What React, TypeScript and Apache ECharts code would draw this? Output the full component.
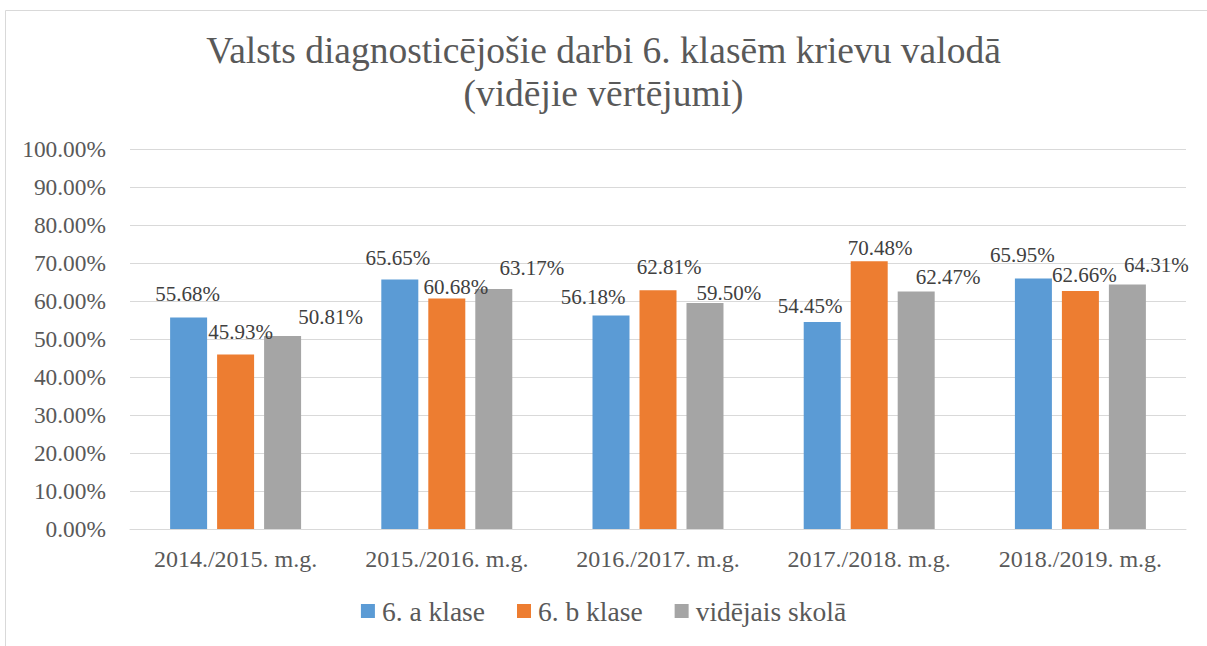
import React, { useEffect, useRef } from "react";
import * as echarts from "echarts";

const categories = [
  "2014./2015. m.g.",
  "2015./2016. m.g.",
  "2016./2017. m.g.",
  "2017./2018. m.g.",
  "2018./2019. m.g.",
];
const seriesNames = ["6. a klase", "6. b klase", "vidējais skolā"];
const classA = [55.68, 65.65, 56.18, 54.45, 65.95];
const classB = [45.93, 60.68, 62.81, 70.48, 62.66];
const schoolAvg = [50.81, 63.17, 59.5, 62.47, 64.31];
const yTicks = [0, 10, 20, 30, 40, 50, 60, 70, 80, 90, 100];

// label placement tweaks (styling only)
const offsetsA = [[-1, -8], [-2, -6.5], [-18, -3.5], [-12, -1], [-11, -7.5]];
const offsetsB = [[5, -6.5], [9, 4.5], [11, -7.5], [11, 2], [4, -0.5]];
const offsetsC = [[48, -3], [38, -5.5], [24, 5.5], [32, 0.5], [29, -4.5]];

const FONT = "Liberation Serif";
const colors = ["#5B9BD5", "#ED7D31", "#A5A5A5"];

export default function App() {
  const ref = useRef<HTMLDivElement>(null);
  useEffect(() => {
    document.body.style.margin = "0";
    const chart = echarts.init(ref.current!, null, { renderer: "svg" });
    const mk = (name: string, vals: number[], offs: number[][], color: string) => ({
      name,
      type: "bar",
      barWidth: 37,
      barGap: "27%",
      itemStyle: { color },
      data: vals.map((v, i) => ({
        value: v,
        label: { offset: offs[i] },
      })),
      label: {
        show: true,
        position: "top",
        distance: 5,
        color: "#404040",
        fontFamily: FONT,
        fontSize: 21,
        formatter: (p: any) => Number(p.value).toFixed(2) + "%",
      },
    });
    chart.setOption({
      animation: false,
      color: colors,
      textStyle: { fontFamily: FONT },
      graphic: [
        {
          type: "rect",
          shape: { x: 5.5, y: 10.5, width: 1220, height: 660 },
          style: { fill: "none", stroke: "#d9d9d9", lineWidth: 1 },
          silent: true,
        },
      ],
      title: {
        text: "Valsts diagnosticējošie darbi 6. klasēm krievu valodā\n(vidējie vērtējumi)",
        left: "center",
        top: 24,
        padding: [5, 5, 5, 27],
        textStyle: {
          fontFamily: FONT,
          fontSize: 37.5,
          fontWeight: "normal",
          color: "#595959",
          lineHeight: 43,
        },
      },
      legend: {
        data: seriesNames,
        bottom: 16,
        left: "center",
        icon: "rect",
        itemWidth: 14,
        itemHeight: 14,
        itemGap: 32,
        textStyle: {
          fontFamily: FONT,
          fontSize: 27.5,
          color: "#595959",
          padding: [0, 0, 0, 2],
        },
      },
      grid: { left: 130, right: 21, top: 149, bottom: 117, containLabel: false },
      xAxis: {
        type: "category",
        data: categories,
        axisTick: { show: false },
        axisLine: { lineStyle: { color: "#d9d9d9", width: 1 } },
        axisLabel: {
          interval: 0,
          hideOverlap: false,
          fontFamily: FONT,
          fontSize: 24,
          color: "#595959",
          margin: 18,
        },
      },
      yAxis: {
        type: "value",
        min: yTicks[0],
        max: yTicks[yTicks.length - 1],
        interval: 10,
        axisLine: { show: false },
        axisTick: { show: false },
        splitLine: { lineStyle: { color: "#d9d9d9", width: 1 } },
        axisLabel: {
          fontFamily: FONT,
          fontSize: 23.4,
          color: "#595959",
          margin: 24,
          formatter: (v: number) => v.toFixed(2) + "%",
        },
      },
      series: [
        mk(seriesNames[0], classA, offsetsA, colors[0]),
        mk(seriesNames[1], classB, offsetsB, colors[1]),
        mk(seriesNames[2], schoolAvg, offsetsC, colors[2]),
      ],
    });
    return () => chart.dispose();
  }, []);
  return <div ref={ref} style={{ width: 1207, height: 646 }} />;
}
